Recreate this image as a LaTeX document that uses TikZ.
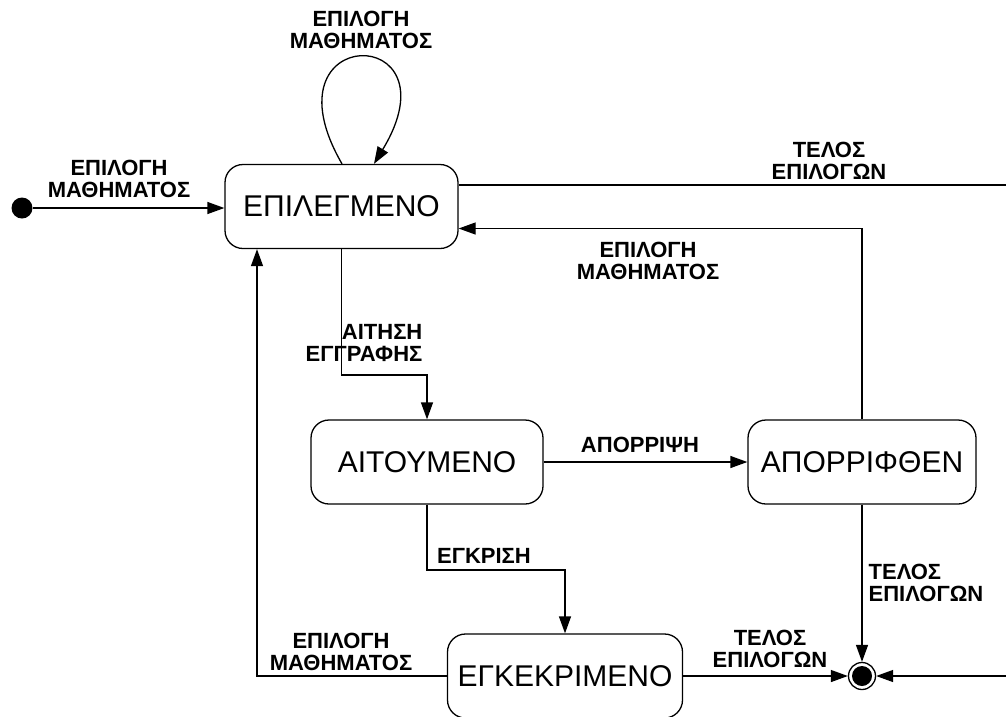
\documentclass[tikz,border=0pt]{standalone}
\usepackage{fontspec}
\setmainfont{Liberation Sans}
\usetikzlibrary{arrows.meta,positioning}
\begin{document}
\begin{tikzpicture}[x=1pt,y=-1pt,line width=1.3pt,
  state/.style={draw, rounded corners=18pt, minimum height=84pt, inner sep=2pt,
    font=\fontsize{30}{34}\selectfont},
  lbl/.style={font=\bfseries\fontsize{22}{22.5}\selectfont, align=center, inner sep=0pt},
  trans/.style={-{Triangle[length=17pt,width=12pt]}}]
  \useasboundingbox (0,0) rectangle (1006,716);
  % states
  \node[state, minimum width=233pt] (epil) at (341.5,206.5) {ΕΠΙΛΕΓΜΕΝΟ};
  \node[state, minimum width=232pt] (ait) at (427,462) {ΑΙΤΟΥΜΕΝΟ};
  \node[state, minimum width=228pt] (apor) at (862,462) {ΑΠΟΡΡΙΦΘΕΝ};
  \node[state, minimum width=235pt] (egk) at (565,676) {ΕΓΚΕΚΡΙΜΕΝΟ};
  \node[circle, fill, inner sep=0pt, minimum size=21pt] (init) at (22,208) {};
  \node[circle, draw, inner sep=0pt, minimum size=27pt] (fin) at (862,676) {};
  \fill (fin.center) circle (10pt);
  % free ends at the right border
  \coordinate (out1) at (1006,185);
  \coordinate (out2) at (1006,676);
  \coordinate (bend1) at (427,375);
  \coordinate (bend2) at (565,570);
  % transitions
  \draw[trans] (init) -- (init -| epil.west);
  \draw[trans] ([xshift=0.5pt]epil.north) .. controls (260,22) and (460,22) .. ([xshift=32.5pt]epil.north);
  \draw (epil.east |- out1) -- (out1);
  \draw[trans] (apor.north) |- ([yshift=-22pt]epil.east);
  \draw[trans] (epil.south) |- (bend1) -- (ait.north);
  \draw[trans] (ait) -- (apor);
  \draw[trans] (ait.south) |- (bend2) -- (egk.north);
  \draw[trans] (egk.west) -| ([xshift=-84.5pt]epil.south);
  \draw[trans] (egk.east) -- (fin);
  \draw[trans] (apor.south) -- (fin);
  \draw[trans] (out2) -- (fin);
  % labels
  \node[lbl] (lInit) at (119,179) {ΕΠΙΛΟΓΗ\\ΜΑΘΗΜΑΤΟΣ};
  \node[lbl] (lLoop) at (361,30) {ΕΠΙΛΟΓΗ\\ΜΑΘΗΜΑΤΟΣ};
  \node[lbl] (lEnd1) at (829,161) {ΤΕΛΟΣ\\ΕΠΙΛΟΓΩΝ};
  \node[lbl] (lBack) at (648,261) {ΕΠΙΛΟΓΗ\\ΜΑΘΗΜΑΤΟΣ};
  \node[lbl, align=right, anchor=east] (lReq) at (423,343) {ΑΙΤΗΣΗ\\ΕΓΓΡΑΦΗΣ};
  \node[lbl] (lRej) at (640,445) {ΑΠΟΡΡΙΨΗ};
  \node[lbl] (lAppr) at (484,556) {ΕΓΚΡΙΣΗ};
  \node[lbl, align=left, anchor=west] (lEnd2) at (868,583) {ΤΕΛΟΣ\\ΕΠΙΛΟΓΩΝ};
  \node[lbl] (lEnd3) at (770,649) {ΤΕΛΟΣ\\ΕΠΙΛΟΓΩΝ};
  \node[lbl] (lSel) at (341,652) {ΕΠΙΛΟΓΗ\\ΜΑΘΗΜΑΤΟΣ};
\end{tikzpicture}
\end{document}
